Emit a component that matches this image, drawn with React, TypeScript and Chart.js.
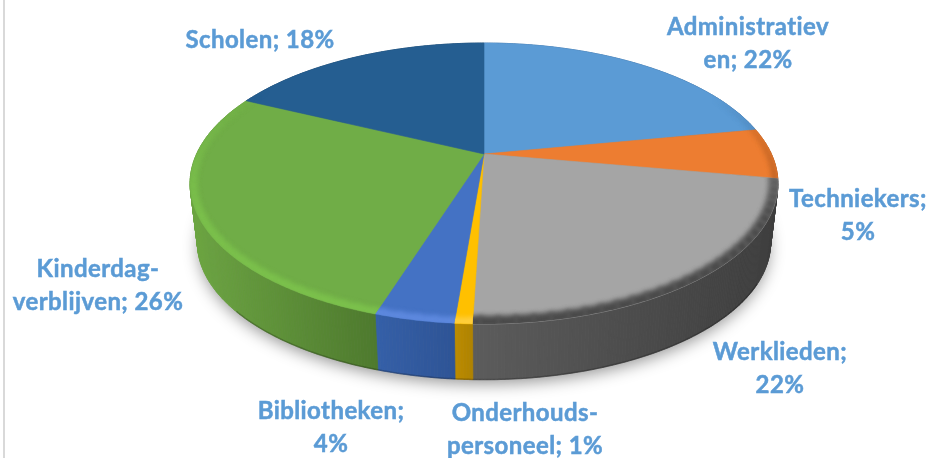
import React, { useEffect, useRef } from "react";
import { Chart, registerables } from "chart.js";

Chart.register(...registerables);

const categories = ["Administratieven", "Techniekers", "Werklieden", "Onderhoudspersoneel", "Bibliotheken", "Kinderdagverblijven", "Scholen"];
const values = [22.0, 5.8, 22.7, 0.8, 3.6, 27.2, 17.9];
const labelLines = [
  ["Administratiev", "en; 22%"],
  ["Techniekers;", "5%"],
  ["Werklieden;", "22%"],
  ["Onderhouds-", "personeel; 1%"],
  ["Bibliotheken;", "4%"],
  ["Kinderdag-", "verblijven; 26%"],
  ["Scholen; 18%"],
];
const labelCenters = [
  [748, 27], [858, 199], [780, 352], [525, 413], [331, 411], [98, 269], [260, 40],
];
const topColors = ["#5b9bd5", "#ed7d31", "#a5a5a5", "#ffc000", "#4472c4", "#70ad47", "#255e91"];
const sideLeft = [[63, 111, 159], [168, 86, 30], [92, 92, 92], [189, 140, 0], [53, 96, 168], [108, 165, 66], [26, 68, 104]];
const sideRight = [[58, 101, 144], [156, 79, 26], [62, 62, 62], [176, 131, 0], [46, 84, 150], [78, 122, 46], [26, 68, 104]];
const rimColors = ["#3f6f9f", "#a8561e", "#4a4a4a", "#ffcf40", "#5f8ae0", "#7cc24c", "#255e91"];
const rimWidths = [5, 5, 12, 8, 8, 8, 5];

// perspective disc: centre, half-width, foreshortening
const CX = 484, CY = 154, A = 287.4, B = 134.3, P = 0.21;
const DEPTH = 60, BOTTOM_SCALE = 0.975;

function project(a: number, r: number, bottom: boolean): [number, number] {
  const u = Math.cos(a) * r, v = Math.sin(a) * r;
  const w = 1 - P * v;
  const s = bottom ? BOTTOM_SCALE : 1;
  return [CX + (A * s * u) / w, CY + (bottom ? DEPTH : 0) + (B * s * v) / w];
}

function arcPoints(a0: number, a1: number, r: number, bottom: boolean) {
  const n = Math.max(2, Math.ceil(Math.abs(a1 - a0) / 0.01));
  const pts: [number, number][] = [];
  for (let i = 0; i <= n; i++) pts.push(project(a0 + ((a1 - a0) * i) / n, r, bottom));
  return pts;
}

function sector(ctx: CanvasRenderingContext2D, a0: number, a1: number, r: number) {
  ctx.beginPath();
  ctx.moveTo(CX, CY);
  arcPoints(a0, a1, r, false).forEach((p) => ctx.lineTo(p[0], p[1]));
  ctx.closePath();
}

const pie3d = {
  id: "pie3d",
  beforeDatasetsDraw(chart: any) {
    const ctx: CanvasRenderingContext2D = chart.ctx;
    const arcs = chart.getDatasetMeta(0).data;
    // sheet edge
    ctx.fillStyle = "#d9d9d9";
    ctx.fillRect(3, 0, 2, 458);
    // soft shadow under the disc
    ctx.save();
    ctx.shadowColor = "rgba(0,0,0,0.42)";
    ctx.shadowBlur = 16;
    ctx.shadowOffsetY = 5;
    ctx.fillStyle = "#888";
    ctx.beginPath();
    arcPoints(0, Math.PI * 2, 0.995, true).forEach((p, i) => (i ? ctx.lineTo(p[0], p[1]) : ctx.moveTo(p[0], p[1])));
    ctx.closePath();
    ctx.fill();
    ctx.restore();
    // side walls as thin strips, shaded from left to right within each slice
    arcs.forEach((el: any, i: number) => {
      const top = arcPoints(el.startAngle, el.endAngle, 1, false);
      const bot = arcPoints(el.startAngle, el.endAngle, 1, true);
      const xs = top.map((p) => p[0]);
      const x0 = Math.min(...xs), x1 = Math.max(...xs);
      for (let k = 0; k < top.length - 1; k++) {
        const t = (top[k][0] - x0) / Math.max(1, x1 - x0);
        const c = sideLeft[i].map((l, j) => Math.round(l + (sideRight[i][j] - l) * t));
        const col = `rgb(${c[0]},${c[1]},${c[2]})`;
        ctx.fillStyle = col;
        ctx.strokeStyle = col;
        ctx.lineWidth = 0.7;
        ctx.beginPath();
        ctx.moveTo(top[k][0], top[k][1]);
        ctx.lineTo(top[k + 1][0], top[k + 1][1]);
        ctx.lineTo(bot[k + 1][0], bot[k + 1][1]);
        ctx.lineTo(bot[k][0], bot[k][1]);
        ctx.closePath();
        ctx.fill();
        ctx.stroke();
      }
    });
    // bottom contour darkening
    ctx.save();
    ctx.strokeStyle = "rgba(0,0,0,0.22)";
    ctx.lineWidth = 1.5;
    ctx.beginPath();
    arcPoints(0.5, Math.PI - 0.7, 0.999, true).forEach((p, i) => (i ? ctx.lineTo(p[0], p[1]) : ctx.moveTo(p[0], p[1])));
    ctx.stroke();
    ctx.restore();
  },
  beforeDatasetDraw(chart: any) {
    const ctx: CanvasRenderingContext2D = chart.ctx;
    const arcs = chart.getDatasetMeta(0).data;
    arcs.forEach((el: any, i: number) => {
      ctx.fillStyle = topColors[i];
      sector(ctx, el.startAngle, el.endAngle, 1);
      ctx.fill();
      ctx.strokeStyle = topColors[i];
      ctx.lineWidth = 0.6;
      ctx.stroke();
    });
    // bevel along the front rim
    arcs.forEach((el: any, i: number) => {
      ctx.save();
      sector(ctx, el.startAngle, el.endAngle, 1.0);
      ctx.clip();
      ctx.filter = "blur(2.5px)";
      ctx.strokeStyle = rimColors[i];
      ctx.lineWidth = rimWidths[i];
      ctx.lineCap = "butt";
      const step = 0.05;
      const a0 = el.startAngle - 0.05, a1 = el.endAngle + 0.05;
      for (let a = a0; a < a1; a += step) {
        const v = Math.sin(a);
        const t = Math.min(1, Math.max(0, (v + 0.5) / 0.9));
        if (t <= 0) continue;
        ctx.globalAlpha = t;
        const seg = arcPoints(a, Math.min(a + step + 0.01, a1), 0.99, false);
        ctx.beginPath();
        seg.forEach((p, k) => (k ? ctx.lineTo(p[0], p[1]) : ctx.moveTo(p[0], p[1])));
        ctx.stroke();
      }
      ctx.restore();
    });
    return false;
  },
  afterDatasetsDraw(chart: any) {
    const ctx: CanvasRenderingContext2D = chart.ctx;
    ctx.save();
    ctx.font = 'bold 24px Lato, "Open Sans", sans-serif';
    (ctx as any).letterSpacing = "0.42px";
    ctx.fillStyle = "#5b9bd5";
    ctx.strokeStyle = "#5b9bd5";
    ctx.lineWidth = 0.5;
    ctx.textAlign = "center";
    ctx.textBaseline = "middle";
    labelLines.forEach((lines, i) => {
      lines.forEach((line, k) => {
        const y = labelCenters[i][1] + k * 33;
        ctx.fillText(line, labelCenters[i][0], y);
        ctx.strokeText(line, labelCenters[i][0], y);
      });
    });
    ctx.restore();
  },
};

export default function App() {
  const ref = useRef<HTMLCanvasElement>(null);
  useEffect(() => {
    const chart = new Chart(ref.current!, {
      type: "pie",
      data: { labels: categories, datasets: [{ data: values, backgroundColor: topColors, borderWidth: 0 }] },
      options: {
        responsive: false,
        animation: false,
        rotation: 0,
        plugins: { legend: { display: false }, tooltip: { enabled: false } },
      },
      plugins: [pie3d],
    } as any);
    return () => chart.destroy();
  }, []);
  return (
    <div style={{ position: "fixed", left: 0, top: 0, width: 933, height: 458, background: "#fff", overflow: "hidden" }}>
      <canvas ref={ref} width={933} height={458} style={{ display: "block", width: 933, height: 458, filter: "blur(0.4px)" }} />
    </div>
  );
}
